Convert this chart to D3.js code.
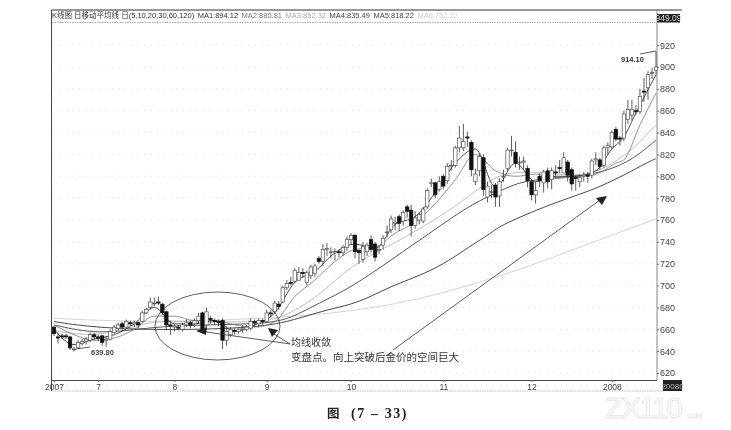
<!DOCTYPE html>
<html><head><meta charset="utf-8">
<script src="https://cdn.jsdelivr.net/npm/d3@7"></script>
<style>html,body{margin:0;padding:0;background:#fff}svg{display:block;filter:blur(.35px)}</style>
</head><body><svg id="c" width="731" height="430"></svg>
<script>
const opens=[662,653,654,654,653,642,643,647,649,650,655,653,654,650,651,657,661,665,662,666,665,666,667,675,680,684,685,683,676,664,662,662,660,664,666,665,668,675,664,670,668,667,668,650,655,659,658,660,660,661,667,665,668,667,675,676,683,685,698,703,704,705,712,703,709,711,725,722,733,731,730,731,730,735,742,746,732,724,731,742,738,733,737,749,751,757,763,759,772,769,755,760,759,772,794,794,788,800,796,810,810,826,826,836,831,795,805,817,781,786,792,782,800,807,824,822,813,813,807,795,783,800,794,805,797,804,808,803,813,806,799,795,800,801,801,815,815,810,826,827,843,835,835,852,856,860,859,878,881,894,897];
const closes=[656,652,653,653,643,642,648,649,651,655,653,652,648,651,658,662,664,662,667,665,666,664,675,678,685,684,684,675,664,663,663,661,664,666,664,668,672,659,676,669,667,666,650,658,660,658,660,661,662,667,666,668,667,675,674,684,681,698,702,702,714,712,711,712,717,718,722,733,734,731,731,730,735,742,746,731,730,736,737,733,726,733,743,749,761,758,757,767,768,755,762,765,770,787,794,783,795,791,809,810,826,835,832,835,806,802,818,788,791,786,781,795,800,824,824,812,813,814,796,783,787,796,804,795,805,803,807,817,801,793,798,799,801,800,814,816,809,826,828,840,834,834,857,861,861,859,873,877,893,895,900];
const highs=[663,657,656,656,654,644,650,651,653,657,657,655,655,654,660,664,666,667,669,668,668,667,677,680,689,689,690,684,677,668,665,664,666,669,668,670,675,676,680,672,670,669,670,661,662,661,662,664,664,670,669,670,670,678,678,686,686,700,705,708,716,717,716,714,719,720,727,738,739,735,734,733,737,745,748,747,733,740,739,746,740,737,746,755,764,763,765,769,774,774,768,767,772,789,798,795,800,802,812,815,828,846,848,841,833,807,821,820,795,792,794,798,806,826,837,832,818,818,810,797,795,803,806,808,808,810,815,822,815,808,801,802,804,804,816,822,817,828,831,842,845,837,860,870,870,865,880,890,896,899,914.1];
const lows=[654,647,651,651,641,639.8,642,645,646,648,650,649,645,644,650,656,659,660,661,663,662,661,666,674,678,681,682,673,660,655,658,659,658,662,661,662,665,657,660,665,664,663,642,645,653,655,656,657,658,659,663,662,664,666,671,674,678,684,696,700,702,704,707,700,706,708,720,718,727,725,723,726,727,732,738,725,720,721,727,730,722,729,733,744,748,751,750,755,762,745,752,756,757,770,790,780,786,788,793,805,808,822,823,827,800,792,800,782,776,780,772,772,795,805,818,808,806,806,790,778,775,790,785,789,788,798,803,803,795,787,787,790,795,794,798,810,806,808,820,825,832,828,832,848,851,856,857,868,870,889,893];

const ma5Idx=[0,5,10,15,20,25,30,35,40,45,50,55,60,65,70,75,80,85,90,95,100,105,110,115,120,125,130,135,139,142,145,150];
const ma5=[660,646,651,655,665,680,665,665,668,658,664,675,703,713,730,738,734,756,763,785,812,825,790,812,795,800,800,805,825,836,858,893];
const ma10Idx=[0,5,10,15,20,25,30,35,40,45,50,55,60,65,70,75,80,85,90,95,100,105,110,115,120,125,130,135,140,142,146,150];
const ma10=[664,655,650,652,660,672,672,668,668,664,662,667,690,705,722,733,735,748,758,775,797,820,805,800,802,798,800,802,812,815,847,876];
const ma20Idx=[0,11,24,31,53,58,66,74,84,95,104,109,114,121,129,136,142,145,149,150];
const ma20=[659,652,668,667,666,673,690,719,737,760,783,798,804,804,800,804,819,827,844,846];
const ma30Idx=[0,11,24,36,53,59,66,74,85,94,103,109,116,121,129,135,143,149,150];
const ma30=[664,655,662,664,665,670,684,698,726,749,772,783,795,797,800,802,812,830,833];
const ma60Idx=[0,11,31,53,61,68,76,84,95,104,109,111,126,136,149,150];
const ma60=[667,661,659,662,670,678,684,700,714,737,748,755,778,789,815,816];
const ma120Idx=[0,24,54,74,91,111,126,141,150];
const ma120=[670,666,670,676,687,708,728,749,761];

const yTicks=[620,640,660,680,700,720,740,760,780,800,820,840,860,880,900,920];
const monthIdx=[0,11,30,53,74,97,119,139];
const monthLabels=["2007","7","8","9","10","11","12","2008"];
const headerText="K线图 日移动平均线 日(5,10,20,30,60,120)";
const maNames=["MA1:894.12","MA2:880.81","MA3:852.32","MA4:835.49","MA5:818.22","MA6:752.22"];
const maTextColors=["#333","#777","#aaa","#444","#444","#ccc"];

const svg=d3.select("#c");
const x=d3.scaleLinear().domain([0,150]).range([54,656]);
const y=d3.scaleLinear().domain([620,900]).range([373,67]);
const SANS="Arial,'Liberation Sans','Noto Sans CJK SC',sans-serif";
const CJK="'Noto Sans CJK SC',sans-serif";

// frame
svg.append("path").attr("d","M52,10H682").attr("stroke","#333").attr("stroke-width",1).attr("fill","none");
svg.append("path").attr("d","M52,22.5H657").attr("stroke","#aaa").attr("stroke-dasharray","1.5 1").attr("fill","none");
svg.append("path").attr("d","M51.5,10V391").attr("stroke","#444").attr("fill","none");
svg.append("path").attr("d","M657,10V380").attr("stroke","#888").attr("fill","none");
svg.append("path").attr("d","M52,391H663").attr("stroke","#bbb").attr("stroke-dasharray","1.5 1").attr("fill","none");

// grid
svg.append("g").selectAll("line").data(yTicks).join("line")
 .attr("x1",53).attr("x2",656).attr("y1",d=>y(d)).attr("y2",d=>y(d))
 .attr("stroke","#e2e2e2").attr("stroke-width",1).attr("stroke-dasharray","1.5 5");

// axes
const ay=svg.append("g").attr("transform","translate(657,0)")
 .call(d3.axisRight(y).tickValues(yTicks).tickSize(2).tickPadding(1).tickFormat(d3.format("d")));
ay.select(".domain").remove();
ay.selectAll("text").attr("font-family",SANS).attr("font-size",9).attr("fill","#444");
ay.selectAll("line").attr("stroke","#666");
const ax=svg.append("g").attr("transform","translate(0,380)")
 .call(d3.axisBottom(x).tickValues(monthIdx).tickSize(2).tickPadding(2).tickFormat((d,i)=>monthLabels[i]));
ax.select(".domain").attr("stroke","#444").attr("d","M52,0.5H657");
ax.selectAll("text").attr("font-family",SANS).attr("font-size",8.5).attr("fill","#444");
ax.selectAll("line").attr("stroke","#666");

// moving averages
const line=(idx,c)=>d3.line().x((d,i)=>x(idx[i])).y(d=>y(d)).curve(c);
const maDefs=[[ma120,ma120Idx,"#d4d4d4",1,d3.curveBasis],[ma60,ma60Idx,"#333",.9,d3.curveBasis],[ma30,ma30Idx,"#444",.9,d3.curveBasis],[ma20,ma20Idx,"#b0b0b0",.8,d3.curveBasis],[ma10,ma10Idx,"#777",.8,d3.curveMonotoneX],[ma5,ma5Idx,"#222",.8,d3.curveMonotoneX]];
svg.append("g").selectAll("path").data(maDefs).join("path")
 .attr("d",d=>line(d[1],d[4])(d[0])).attr("fill","none").attr("stroke",d=>d[2]).attr("stroke-width",d=>d[3]);

// candles
const idx=d3.range(opens.length);
const g=svg.append("g");
g.selectAll("line").data(idx).join("line")
 .attr("x1",i=>x(i)).attr("x2",i=>x(i)).attr("y1",i=>y(highs[i])).attr("y2",i=>y(lows[i]))
 .attr("stroke","#333").attr("stroke-width",.8);
g.selectAll("rect").data(idx).join("rect")
 .attr("x",i=>x(i)-1.7).attr("width",3.4)
 .attr("y",i=>y(Math.max(opens[i],closes[i])))
 .attr("height",i=>Math.max(.8,Math.abs(y(opens[i])-y(closes[i]))))
 .attr("fill",i=>closes[i]>=opens[i]?"#fff":"#111")
 .attr("stroke",i=>closes[i]>=opens[i]?"#555":"#111").attr("stroke-width",.7);

// header
const hdr=svg.append("text").attr("x",52).attr("y",18).attr("font-family",SANS).attr("font-size",7.5).attr("fill","#333");
hdr.append("tspan").text(headerText);
maNames.forEach((t,i)=>hdr.append("tspan").attr("dx",3.5).attr("fill",maTextColors[i]).text(t));

// black value boxes
svg.append("rect").attr("x",657).attr("y",14).attr("width",23).attr("height",8.5).attr("fill","#222");
svg.append("text").attr("x",668.5).attr("y",21).attr("text-anchor","middle").attr("font-family",SANS).attr("font-size",8.5).attr("fill","#ddd").text("949.09");
svg.append("rect").attr("x",663).attr("y",380).attr("width",19).attr("height",11).attr("fill","#222");
svg.append("text").attr("x",672.5).attr("y",388.5).attr("text-anchor","middle").attr("font-family",SANS).attr("font-size",8).attr("fill","#bbb").text("20080");

// annotations
const anno=svg.append("g").attr("fill","none").attr("stroke","#333").attr("stroke-width",.8);
anno.append("ellipse").attr("cx",217.5).attr("cy",326).attr("rx",62.5).attr("ry",34);
anno.append("path").attr("d","M76,349L90,347");
anno.append("path").attr("d","M640,54L656,51");
anno.append("path").attr("d","M290,344L203,331.5M290,344L274,334");
anno.append("path").attr("d","M393,350L600,200");
const heads=svg.append("g").attr("fill","#222");
heads.append("path").attr("d","M196,331L207,327L206,335Z");
heads.append("path").attr("d","M268,328L278,330L272,337Z");
heads.append("path").attr("d","M607,196L596,198L602,205Z");

svg.append("text").attr("x",91).attr("y",355).attr("font-family",SANS).attr("font-size",7.5).attr("font-weight","bold").attr("fill","#444").text("639.80");
svg.append("text").attr("x",621).attr("y",62).attr("font-family",SANS).attr("font-size",7.5).attr("font-weight","bold").attr("fill","#333").text("914.10");
svg.append("text").attr("x",291).attr("y",345.5).attr("font-family",CJK).attr("font-size",10).attr("fill","#333").text("均线收敛");
svg.append("text").attr("x",291).attr("y",361).attr("font-family",CJK).attr("font-size",10.5).attr("fill","#333").text("变盘点。向上突破后金价的空间巨大");
svg.append("text").attr("x",327).attr("y",418).attr("font-family",CJK).attr("font-size",12.5).attr("font-weight","bold").attr("fill","#222").text("图");
svg.append("text").attr("x",351).attr("y",418).attr("font-family","'Liberation Serif',serif").attr("font-size",14).attr("font-weight","bold").attr("letter-spacing",1.6).attr("fill","#222").text("(7 – 33)");
svg.append("text").attr("x",605).attr("y",418).attr("font-family",SANS).attr("font-size",30).attr("fill","#fff").attr("stroke","#e4e4e4").attr("stroke-width",.8).attr("textLength",78).text("ZX110");
svg.append("text").attr("x",685).attr("y",418).attr("font-family",SANS).attr("font-size",8).attr("fill","#d8d8d8").text(".com");
</script></body></html>
